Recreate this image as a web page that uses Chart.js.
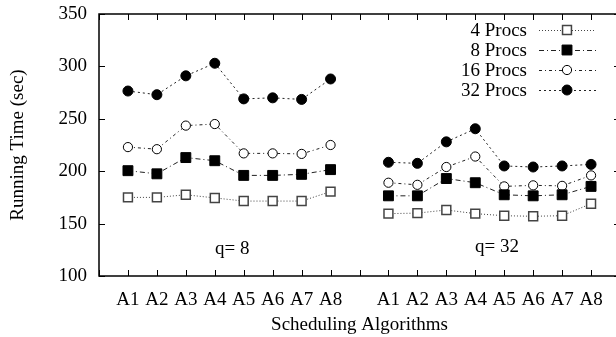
<!DOCTYPE html>
<html>
<head>
<meta charset="utf-8">
<script src="https://cdn.jsdelivr.net/npm/chart.js@4.4.1/dist/chart.umd.min.js"></script>
<style>
  html, body { margin: 0; padding: 0; background: #fff; overflow: hidden; }
  #wrap { position: absolute; left: 0; top: 0; width: 616px; height: 337px; overflow: hidden; }
</style>
</head>
<body>
<div id="wrap"><canvas id="chart" width="628" height="337"></canvas></div>
<script>
// algorithm names, repeated for each quantum group
const algorithms = ["A1", "A2", "A3", "A4", "A5", "A6", "A7", "A8"];

// running times (sec), q = 8
const procs4_q8 = [175, 175, 177.5, 174.5, 171.5, 171.5, 171.5, 180.5];
const procs8_q8 = [200.5, 197.5, 213, 210, 196, 196, 197, 201.5];
const procs16_q8 = [223, 221, 243.5, 245, 217, 217, 216.5, 225];
const procs32_q8 = [276.5, 273, 291, 303, 269, 270, 268.5, 288];

// running times (sec), q = 32
const procs4_q32 = [159.5, 160, 163, 159.5, 157.5, 157, 157.5, 169];
const procs8_q32 = [176.5, 176.5, 193, 189, 177.5, 176.5, 177.5, 185.5];
const procs16_q32 = [189, 187, 204, 214, 185.5, 186.5, 186, 196];
const procs32_q32 = [208.5, 207.5, 228, 240.5, 205, 204, 205, 206.5];

const seriesNames = ["4 Procs", "8 Procs", "16 Procs", "32 Procs"];
const groupLabels = ["q= 8", "q= 32"];
const groupLabelX = [4.6, 13.75];
const groupLabelY = [126, 128];

const FONT = "'Liberation Serif', 'Times New Roman', serif";

// empty slot at both ends and between the two groups
const labels = ["", ...algorithms, "", ...algorithms, ""];
function joinGroups(a, b) {
    return [null, ...a, null, ...b, null];
}

const seriesData = [
    joinGroups(procs4_q8, procs4_q32),
    joinGroups(procs8_q8, procs8_q32),
    joinGroups(procs16_q8, procs16_q32),
    joinGroups(procs32_q8, procs32_q32),
];

const styles = [
    { dash: [1, 2], line: "#444", style: "rect", radius: 6.3, fill: "#fff", border: "#444", bw: 1.5 },
    { dash: [5, 3, 1, 3], line: "#222", style: "rect", radius: 7, fill: "#000", border: "#000", bw: 1 },
    { dash: [3, 3, 1, 3], line: "#222", style: "circle", radius: 4.6, fill: "#fff", border: "#000", bw: 1 },
    { dash: [2, 3], line: "#222", style: "circle", radius: 5, fill: "#000", border: "#000", bw: 1 },
];

const datasets = seriesData.map((d, i) => ({
    label: seriesNames[i],
    data: d,
    borderColor: styles[i].line,
    borderWidth: 1,
    borderDash: styles[i].dash,
    pointStyle: styles[i].style,
    pointRadius: styles[i].radius,
    pointBackgroundColor: styles[i].fill,
    pointBorderColor: styles[i].border,
    pointBorderWidth: styles[i].bw,
    spanGaps: false,
    tension: 0,
}));

// white background, box, inward ticks, group labels and legend
const framePlugin = {
    id: "frame",
    beforeDraw(chart) {
        const ctx = chart.ctx;
        ctx.save();
        ctx.fillStyle = "#fff";
        ctx.fillRect(0, 0, chart.width, chart.height);
        ctx.restore();
    },
    afterDraw(chart) {
        const ctx = chart.ctx;
        const area = chart.chartArea;
        const xs = chart.scales.x;
        const ys = chart.scales.y;
        const tick = 6;
        ctx.save();
        ctx.strokeStyle = "#000";
        ctx.lineWidth = 1;
        ctx.setLineDash([]);
        ctx.beginPath();
        xs.ticks.forEach((t, i) => {
            const px = Math.round(xs.getPixelForTick(i)) + 0.5;
            ctx.moveTo(px, area.bottom);
            ctx.lineTo(px, area.bottom - tick);
            ctx.moveTo(px, area.top);
            ctx.lineTo(px, area.top + tick);
        });
        ys.ticks.forEach((t, i) => {
            const py = Math.round(ys.getPixelForTick(i)) + 0.5;
            ctx.moveTo(area.left, py);
            ctx.lineTo(area.left + tick, py);
            ctx.moveTo(area.right, py);
            ctx.lineTo(area.right - tick, py);
        });
        ctx.stroke();
        ctx.lineWidth = 1.5;
        ctx.strokeRect(area.left, area.top, area.right - area.left, area.bottom - area.top);

        // q labels
        ctx.fillStyle = "#000";
        ctx.font = "19px " + FONT;
        ctx.textAlign = "center";
        ctx.textBaseline = "middle";
        groupLabels.forEach((txt, i) => {
            ctx.fillText(txt, xs.getPixelForValue(groupLabelX[i]), ys.getPixelForValue(groupLabelY[i]));
        });

        // legend: text right aligned, then line sample with marker
        ctx.textAlign = "right";
        chart.data.datasets.forEach((ds, i) => {
            const y = 30 + i * 20;
            ctx.fillStyle = "#000";
            ctx.fillText(ds.label, 527, y + 1);
            ctx.strokeStyle = ds.borderColor;
            ctx.lineWidth = 1;
            ctx.setLineDash(ds.borderDash);
            ctx.beginPath();
            ctx.moveTo(539, y + 0.5);
            ctx.lineTo(596, y + 0.5);
            ctx.stroke();
            ctx.setLineDash([]);
            ctx.fillStyle = ds.pointBackgroundColor;
            ctx.strokeStyle = ds.pointBorderColor;
            ctx.lineWidth = ds.pointBorderWidth;
            Chart.helpers.drawPoint(ctx, {
                pointStyle: ds.pointStyle,
                radius: ds.pointRadius,
                rotation: 0,
                borderWidth: ds.pointBorderWidth,
            }, 567, y);
        });
        ctx.restore();
    },
};

new Chart(document.getElementById("chart"), {
    type: "line",
    data: { labels: labels, datasets: datasets },
    options: {
        responsive: false,
        animation: false,
        layout: { padding: { top: 14, right: 0, bottom: 0, left: 0 } },
        plugins: {
            legend: { display: false },
            tooltip: { enabled: false },
        },
        scales: {
            x: {
                type: "category",
                offset: false,
                grid: { display: false, drawTicks: false },
                border: { display: false },
                ticks: {
                    autoSkip: false,
                    maxRotation: 0,
                    padding: 13,
                    color: "#000",
                    font: { family: FONT, size: 19 },
                },
                title: {
                    display: true,
                    text: "Scheduling Algorithms",
                    color: "#000",
                    font: { family: FONT, size: 19 },
                    padding: { top: 0, bottom: 1 },
                },
                afterFit(scale) {
                    scale.height = 61;
                    scale.paddingLeft = 0;
                    scale.paddingRight = 0;
                },
            },
            y: {
                min: 100,
                max: 350,
                grid: { display: false, drawTicks: false },
                border: { display: false },
                ticks: {
                    stepSize: 50,
                    padding: 12,
                    color: "#000",
                    font: { family: FONT, size: 19 },
                },
                title: {
                    display: true,
                    text: "Running Time (sec)",
                    color: "#000",
                    font: { family: FONT, size: 19 },
                    padding: { top: 7, bottom: 0 },
                },
                afterFit(scale) {
                    scale.width = 99;
                    scale.paddingTop = 0;
                    scale.paddingBottom = 0;
                },
            },
        },
    },
    plugins: [framePlugin],
});
</script>
</body>
</html>
